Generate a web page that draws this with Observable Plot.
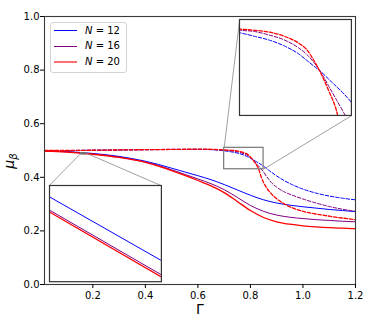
<!DOCTYPE html>
<html><head><meta charset="utf-8">
<script src="https://cdn.jsdelivr.net/npm/d3@7"></script>
<script src="https://cdn.jsdelivr.net/npm/@observablehq/plot@0.6"></script>
<style>
body{margin:0;background:#fff;}
#chart{position:relative;width:374px;height:320px;font-family:"DejaVu Sans",sans-serif;overflow:hidden;}
#chart svg{display:block;}
.inset{position:absolute;}
.legend{position:absolute;box-sizing:border-box;border:1px solid #d4d4d4;border-radius:3px;background:rgba(255,255,255,0.85);font-size:10px;color:#000;}
.legend .row{position:absolute;left:0;height:12px;line-height:12px;white-space:nowrap;}
.legend .sw{position:absolute;left:3px;width:23px;}
.legend .lab{position:absolute;left:34px;top:0;}
</style></head><body><div id="chart"></div>
<script>
// ---------- data ----------
const seriesN = [12, 16, 20];
const xTicks = [0.2, 0.4, 0.6, 0.8, 1.0, 1.2];
const yTicks = [0.0, 0.2, 0.4, 0.6, 0.8, 1.0];

const gammaSolid = [0.016, 0.1, 0.2, 0.3, 0.4, 0.45, 0.5, 0.55, 0.6, 0.65, 0.7, 0.75, 0.8, 0.85, 0.9, 0.95, 1.0, 1.05, 1.1, 1.15, 1.2];
const solidN12 = [0.499, 0.496, 0.489, 0.478, 0.460, 0.448, 0.434, 0.420, 0.406, 0.391, 0.373, 0.353, 0.333, 0.316, 0.304, 0.296, 0.290, 0.285, 0.280, 0.276, 0.272];
const solidN16 = [0.498, 0.495, 0.487, 0.475, 0.457, 0.444, 0.428, 0.411, 0.394, 0.376, 0.354, 0.325, 0.295, 0.273, 0.259, 0.251, 0.246, 0.242, 0.239, 0.236, 0.234];
const solidN20 = [0.498, 0.494, 0.486, 0.474, 0.456, 0.442, 0.425, 0.407, 0.388, 0.368, 0.343, 0.310, 0.276, 0.250, 0.234, 0.225, 0.219, 0.215, 0.212, 0.210, 0.2085];

const gammaDashed = [0.016, 0.1, 0.2, 0.3, 0.4, 0.5, 0.6, 0.65, 0.7, 0.72, 0.74, 0.76, 0.78, 0.79, 0.80, 0.81, 0.82, 0.83, 0.84, 0.85, 0.86, 0.87, 0.88, 0.90, 0.93, 0.96, 1.0, 1.05, 1.1, 1.15, 1.2];
const dashedN12 = [0.500, 0.500, 0.501, 0.502, 0.503, 0.504, 0.504, 0.503, 0.499, 0.496, 0.4928, 0.488, 0.481, 0.476, 0.471, 0.466, 0.460, 0.454, 0.448, 0.441, 0.434, 0.426, 0.419, 0.405, 0.387, 0.372, 0.356, 0.341, 0.330, 0.322, 0.316];
const dashedN16 = [0.500, 0.500, 0.501, 0.502, 0.503, 0.504, 0.5045, 0.504, 0.501, 0.500, 0.497, 0.493, 0.486, 0.481, 0.474, 0.465, 0.454, 0.443, 0.432, 0.420, 0.405, 0.392, 0.380, 0.363, 0.345, 0.333, 0.319, 0.304, 0.291, 0.281, 0.273];
const dashedN20 = [0.500, 0.500, 0.501, 0.502, 0.503, 0.504, 0.505, 0.5045, 0.502, 0.501, 0.4995, 0.496, 0.490, 0.485, 0.4755, 0.464, 0.450, 0.434, 0.404, 0.380, 0.363, 0.349, 0.338, 0.320, 0.300, 0.286, 0.273, 0.263, 0.255, 0.248, 0.242];

// zoomed windows (data coordinates)
const zoomA_x = [0.155, 0.175], zoomA_y = [0.485, 0.490];
const zoomB_x = [0.70, 0.85],   zoomB_y = [0.43, 0.51];
// lower-left inset: solid lines over zoom window A
const inset1Gamma = [0.155, 0.175];
const inset1N12 = [0.48941, 0.48610];
const inset1N16 = [0.48872, 0.48536];
const inset1N20 = [0.48862, 0.48525];

// ---------- layout / style ----------
const colors = ["blue", "purple", "red"];
const widths = [1.0, 1.0, 1.3];
const dash = "3.5,1.8";
// inset placement in main-axes data units
const placeA = {x: [0.034, 0.46], y: [0.01, 0.369]};
const placeB = {x: [0.759, 1.185], y: [0.630, 0.988]};

const rows = (xs, ys) => xs.map((x, i) => ({x, y: ys[i]}));
const solids = [solidN12, solidN16, solidN20];
const dasheds = [dashedN12, dashedN16, dashedN20];
const inset1 = [inset1N12, inset1N16, inset1N20];

function seriesMarks(extra = {}) {
  const m = [];
  for (let i = 0; i < 3; i++) {
    m.push(Plot.line(rows(gammaSolid, solids[i]), {x: "x", y: "y", stroke: colors[i], strokeWidth: widths[i], curve: "monotone-x", ...extra}));
    m.push(Plot.line(rows(gammaDashed, dasheds[i]), {x: "x", y: "y", stroke: colors[i], strokeWidth: widths[i], strokeDasharray: dash, curve: "monotone-x", ...extra}));
  }
  return m;
}

const zoomRects = [
  {x1: zoomA_x[0], x2: zoomA_x[1], y1: zoomA_y[0], y2: zoomA_y[1]},
  {x1: zoomB_x[0], x2: zoomB_x[1], y1: zoomB_y[0], y2: zoomB_y[1]}
];
const connectors = [
  {x1: zoomA_x[0], y1: zoomA_y[1], x2: placeA.x[0], y2: placeA.y[1]},
  {x1: zoomA_x[1], y1: zoomA_y[1], x2: placeA.x[1], y2: placeA.y[1]},
  {x1: zoomB_x[0], y1: zoomB_y[1], x2: placeB.x[0], y2: placeB.y[1]},
  {x1: zoomB_x[1], y1: zoomB_y[0], x2: placeB.x[1], y2: placeB.y[0]}
];

const W = 374, H = 320;
const main = Plot.plot({
  width: W, height: H,
  marginLeft: 44, marginRight: 19, marginTop: 16, marginBottom: 36,
  style: {fontFamily: "DejaVu Sans, sans-serif", fontSize: "10px", color: "black", background: "white", overflow: "visible"},
  x: {domain: [0.016, 1.2]},
  y: {domain: [0, 1]},
  marks: [
    ...seriesMarks(),
    Plot.rect(zoomRects, {x1: "x1", x2: "x2", y1: "y1", y2: "y2", fill: "none", stroke: "#777", strokeWidth: 1.2}),
    Plot.link(connectors, {x1: "x1", y1: "y1", x2: "x2", y2: "y2", stroke: "#888", strokeWidth: 0.8}),
    Plot.frame({stroke: "#3a3a3a", strokeWidth: 1.1}),
    Plot.axisX({ticks: xTicks, tickFormat: d3.format(".1f"), tickSize: 4, tickPadding: 3, label: null}),
    Plot.axisY({ticks: yTicks, tickFormat: d3.format(".1f"), tickSize: 4, tickPadding: 1, label: null}),
    Plot.text(["Γ"], {text: d => d, frameAnchor: "bottom", lineAnchor: "middle", dy: 25, fontSize: 14})
  ]
});
const chart = document.getElementById("chart");
chart.appendChild(main);

// y-axis label with subscript
const ns = "http://www.w3.org/2000/svg";
const yl = document.createElementNS(ns, "text");
yl.setAttribute("transform", "translate(14,161) rotate(-90)");
yl.setAttribute("text-anchor", "middle");
yl.setAttribute("font-size", "14");
yl.setAttribute("font-style", "italic");
yl.setAttribute("fill", "black");
const t1 = document.createElementNS(ns, "tspan"); t1.textContent = "μ";
const t2 = document.createElementNS(ns, "tspan"); t2.textContent = "β";
t2.setAttribute("font-size", "10"); t2.setAttribute("dy", "3");
yl.appendChild(t1); yl.appendChild(t2);
main.appendChild(yl);

// insets
const sx = main.scale("x"), sy = main.scale("y");
function addInset(place, dx, dy, marks) {
  const left = sx.apply(place.x[0]), right = sx.apply(place.x[1]);
  const top = sy.apply(place.y[1]), bottom = sy.apply(place.y[0]);
  const p = Plot.plot({
    width: right - left, height: bottom - top, margin: 0,
    style: {background: "white", overflow: "visible"},
    x: {domain: dx, axis: null}, y: {domain: dy, axis: null},
    marks: [...marks, Plot.frame({stroke: "#333", strokeWidth: 1.2})]
  });
  p.classList.add("inset");
  p.style.left = left + "px"; p.style.top = top + "px";
  chart.appendChild(p);
}
addInset(placeA, zoomA_x, zoomA_y,
  inset1.map((ys, i) => Plot.line(rows(inset1Gamma, ys), {x: "x", y: "y", stroke: colors[i], strokeWidth: widths[i], clip: true})));
addInset(placeB, zoomB_x, zoomB_y,
  dasheds.map((ys, i) => Plot.line(rows(gammaDashed, ys), {x: "x", y: "y", stroke: colors[i], strokeWidth: widths[i], strokeDasharray: dash, curve: "monotone-x", clip: true})));

// legend
const lg = document.createElement("div");
lg.className = "legend";
Object.assign(lg.style, {left: "50px", top: "22px", width: "77px", height: "51px"});
const swColors = ["blue", "purple", "#ff6f6f"];
const swWidths = [1.3, 1.3, 2.6];
seriesN.forEach((n, i) => {
  const r = document.createElement("div");
  r.className = "row";
  r.style.top = (1.5 + i * 15.8) + "px";
  const sw = document.createElement("span");
  sw.className = "sw";
  sw.style.top = (6 - swWidths[i] / 2) + "px";
  sw.style.borderTop = swWidths[i] + "px solid " + swColors[i];
  const lab = document.createElement("span");
  lab.className = "lab";
  lab.innerHTML = "<i>N</i> = " + n;
  r.appendChild(sw); r.appendChild(lab);
  lg.appendChild(r);
});
chart.appendChild(lg);
</script></body></html>
